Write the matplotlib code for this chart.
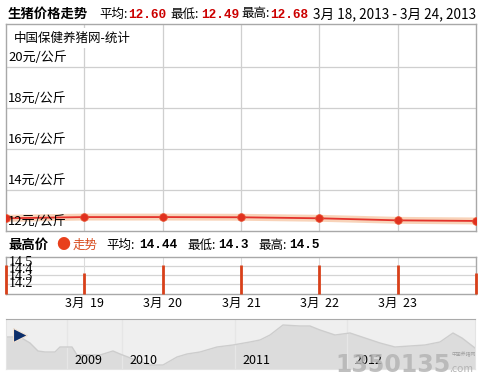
import matplotlib
matplotlib.use("Agg")
import matplotlib.pyplot as plt

plt.rcParams['font.family'] = ['Noto Sans CJK SC', 'DejaVu Sans']

# ---------------- data ----------------
days = [0, 1, 2, 3, 4, 5, 6]                     # 3月18 .. 3月24
day_labels = ["3月  19", "3月  20", "3月  21", "3月  22", "3月  23"]
day_label_pos = [1, 2, 3, 4, 5]
price = [12.62, 12.68, 12.68, 12.67, 12.62, 12.52, 12.49]
high_price = [14.5, 14.3, 14.5, 14.5, 14.5, 14.5, 14.3]
main_ticks = [14, 16, 18, 20]
main_tick_labels = ["14元/公斤", "16元/公斤", "18元/公斤", "20元/公斤"]
bar_tick_labels = ["14.5", "14.4", "14.3", "14.2"]

title = "生猪价格走势"
stat_names = ["平均:", "最低:", "最高:"]
stat_vals = ["12.60", "12.49", "12.68"]
date_range = "3月 18, 2013 - 3月 24, 2013"
sub_title = "最高价"
sub_legend = "走势"
sub_stats = ["14.44", "14.3", "14.5"]

nav_t = [0, 14, 24, 32, 39, 49, 54, 66, 71, 84, 94, 107, 114, 127, 144, 157,
         171, 181, 194, 211, 227, 244, 254, 264, 277, 294, 304, 314, 329, 344,
         359, 374, 389, 404, 419, 434, 447, 456, 469]
nav_v = [16.0, 16.0, 14.5, 12.5, 12.25, 12.25, 13.5, 13.5, 11.5, 11.5, 11.5,
         12.5, 11.75, 10.5, 9.0, 9.0, 11.0, 11.75, 12.25, 13.5, 14.0, 14.75,
         15.25, 16.5, 19.0, 18.75, 18.75, 17.75, 16.5, 17.0, 15.75, 14.5, 13.5,
         13.75, 14.0, 14.75, 17.0, 15.75, 13.25]
year_t = [61, 116, 229, 341]
year_labels = ["2009", "2010", "2011", "2012"]

# ---------------- layout ----------------
W, H = 483, 377
fig = plt.figure(figsize=(W / 100, H / 100), dpi=100)
fig.patch.set_facecolor("white")


def px_rect(x0, y0, x1, y1):
    return [x0 / W, 1 - y1 / H, (x1 - x0) / W, (y1 - y0) / H]


def fx(x):
    return x / W


def fy(y):
    return 1 - y / H


RED = "#e4322b"
DARKRED = "#cc0000"
GRID = "#cfcfcf"
FS = 9.0

# title line
fig.text(fx(8), fy(14), title, fontsize=9.6, fontweight="bold", va="center", ha="left")
name_x = [99, 170, 241]
val_x = [128, 201, 270]
for nx, vx, n, v in zip(name_x, val_x, stat_names, stat_vals):
    fig.text(fx(nx), fy(14), n, fontsize=FS, va="center", ha="left")
    fig.text(fx(vx), fy(14.5), v, fontsize=9.2, va="center", ha="left",
             color=DARKRED, fontweight="bold", family="Liberation Mono")
fig.text(fx(313), fy(14), date_range, fontsize=9.8, va="center", ha="left")

# ---------------- main chart ----------------
ax = fig.add_axes(px_rect(6, 24, 476, 231))
ax.set_xlim(days[0], days[-1])
ax.set_ylim(12, 22.1)
for s in ax.spines.values():
    s.set_color("#a8a8a8")
    s.set_linewidth(1)
ax.set_xticks([])
ax.set_yticks([])
for d in days[1:-1]:
    ax.axvline(d, color=GRID, lw=0.9, zorder=0)
for t in main_ticks:
    ax.axhline(t, color=GRID, lw=0.9, zorder=0)
for t, lab in zip(main_ticks + [12], main_tick_labels + ["12元/公斤"]):
    ax.annotate(lab, xy=(0, t), xytext=(1.5, 2), textcoords="offset points",
                fontsize=9.4, ha="left", va="bottom", zorder=5)
# source label box
ax.text(0.016, 0.93, "中国保健养猪网-统计", transform=ax.transAxes, fontsize=FS,
        ha="left", va="center", zorder=6,
        bbox=dict(facecolor="white", edgecolor="none", pad=2.5))
ax.plot(days, price, color="#f7c9a8", lw=5, alpha=0.8, zorder=2, solid_capstyle="round")
ax.plot(days, price, color=RED, lw=1.3, zorder=3)
ax.plot(days, price, "o", color="#e0301e", ms=5.5, zorder=4, mec="#e85030", mew=0.6)

# ---------------- second header ----------------
fig.text(fx(8), fy(245), sub_title, fontsize=9.6, fontweight="bold", va="center", ha="left")
fig.text(fx(63), fy(245.5), "●", fontsize=10, color="#e8401c", va="center", ha="center")
fig.text(fx(73), fy(245), sub_legend, fontsize=FS, color="#d84a1c", va="center", ha="left")
sub_name_x = [106, 187, 258]
sub_val_x = [139, 218, 289]
for nx, vx, n, v in zip(sub_name_x, sub_val_x, stat_names, sub_stats):
    fig.text(fx(nx), fy(245), n, fontsize=FS, va="center", ha="left")
    fig.text(fx(vx), fy(245.5), v, fontsize=9.2, va="center", ha="left",
             fontweight="bold", family="Liberation Mono")

# ---------------- bar (high price) panel ----------------
bx = fig.add_axes(px_rect(6, 257, 476, 294))
bx.set_xlim(days[0], days[-1])
bx.set_ylim(13.775, 14.7)
for s in bx.spines.values():
    s.set_color("#a8a8a8")
    s.set_linewidth(1)
bx.set_yticks([])
for yf in [0.76, 0.51, 0.27]:
    bx.axhline(13.775 + yf * 0.925, color="#d4d4d4", lw=0.9, zorder=0)
for d in days[1:-1]:
    bx.axvline(d, color="#dcdcdc", lw=0.8, zorder=0)
bx.vlines(days, 13.775, high_price, color="#d8401a", lw=2.0, zorder=3, clip_on=False)
for i, lab in enumerate(bar_tick_labels):
    bx.text(0.006, 1.02 - i * 0.19, lab, transform=bx.transAxes, fontsize=10,
            ha="left", va="top", family="Liberation Serif", zorder=5)
bx.set_xticks(day_label_pos)
bx.set_xticklabels(day_labels, fontsize=FS)
bx.tick_params(axis="x", length=0, pad=2)

# ---------------- navigator ----------------
nx_ax = fig.add_axes(px_rect(6, 319, 475, 369))
nx_ax.set_facecolor("#efefef")
nx_ax.set_xlim(0, 469)
nx_ax.set_ylim(8, 20.5)
nx_ax.fill_between(nav_t, 8, nav_v, color="#dcdcdc", lw=0, zorder=1)
nx_ax.plot(nav_t, nav_v, color="#cdcdcd", lw=1, zorder=2)
for t, lab in zip(year_t, year_labels):
    nx_ax.axvline(t, color="#e6e6e6", lw=0.9, zorder=1.5)
    nx_ax.text(t + 7, 8.5, lab, fontsize=FS, ha="left", va="bottom", zorder=5)
for k, s in nx_ax.spines.items():
    s.set_color("#aaaaaa" if k == "top" else "#e4e4e4")
nx_ax.set_xticks([])
nx_ax.set_yticks([])
nx_ax.plot([0.03], [0.68], marker=">", color="#0d2f6b", ms=10, transform=nx_ax.transAxes,
           clip_on=False, zorder=6, mec="#f4e4d4", mew=0.8)

# watermark
fig.text(fx(335), fy(365), "1350135", fontsize=17, color="#b4b4b4", ha="left",
         va="center", fontweight="bold", family="DejaVu Sans", alpha=0.85, zorder=10)
fig.text(fx(449), fy(369), ".com", fontsize=7.5, color="#b4b4b4", ha="left", va="center")
fig.text(fx(452), fy(355), "中国养猪网", fontsize=3.5, color="#a0a0a0", ha="left", va="center")

fig.savefig("out.png", dpi=100, facecolor="white")
